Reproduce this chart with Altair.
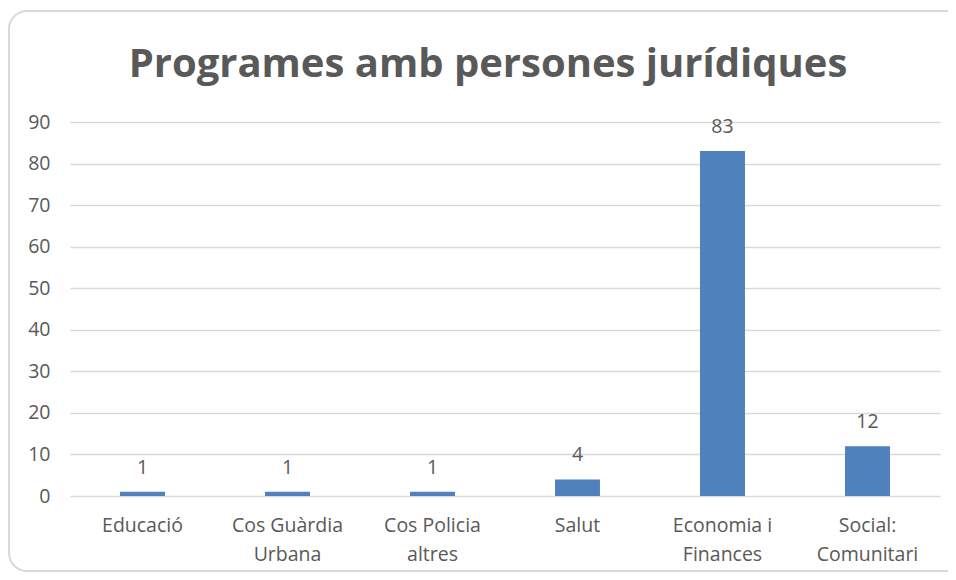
import altair as alt
import pandas as pd

categories = ["Educació", "Cos Guàrdia Urbana", "Cos Policia altres", "Salut", "Economia i Finances", "Social: Comunitari"]
values = [1, 1, 1, 4, 83, 12]
title_text = "Programes amb persones jurídiques"

df = pd.DataFrame({"cat": categories, "val": values})

FONT = "Open Sans"
GREY = "#595959"
FS = 19.5

label_expr = ("datum.label == 'Cos Guàrdia Urbana' ? ['Cos Guàrdia', 'Urbana'] : "
              "datum.label == 'Cos Policia altres' ? ['Cos Policia', 'altres'] : "
              "datum.label == 'Economia i Finances' ? ['Economia i', 'Finances'] : "
              "datum.label == 'Social: Comunitari' ? ['Social:', 'Comunitari'] : datum.label")

x = alt.X("cat:N", sort=categories, title=None,
          scale=alt.Scale(paddingInner=0.69, paddingOuter=0.345),
          axis=alt.Axis(labelAngle=0, labelExpr=label_expr, labelFont=FONT, labelFontSize=FS,
                        labelColor=GREY, labelPadding=20, labelLineHeight=29, ticks=False,
                        domain=False, labelBaseline="top"))
y = alt.Y("val:Q", title=None,
          scale=alt.Scale(domain=[0, 90], nice=False),
          axis=alt.Axis(values=list(range(0, 91, 10)), labelFont=FONT, labelFontSize=FS,
                        labelColor=GREY, labelPadding=20, ticks=False, domain=False,
                        gridColor="#d9d9d9", gridWidth=1.5))

bars = alt.Chart(df).mark_bar(color="#4F81BD").encode(x=x, y=y)
texts = alt.Chart(df).mark_text(font=FONT, fontSize=FS, color=GREY, baseline="middle", dy=-24).encode(
    x=alt.X("cat:N", sort=categories), y="val:Q", text="val:Q")

title_df = pd.DataFrame({"t": [title_text]})
title = alt.Chart(title_df).mark_text(font=FONT, fontSize=40, fontWeight="bold", color=GREY,
                                      baseline="alphabetic", align="center", clip=False).encode(
    x=alt.value(418), y=alt.value(-45), text="t:N")

# chart frame: rounded corners on the left, continuing past the right edge
frame_style = dict(stroke="#d9d9d9", strokeWidth=2, clip=False)
frame = alt.Chart(title_df).mark_rect(filled=False, cornerRadius=18, **frame_style).encode(
    x=alt.value(-61), x2=alt.value(1200), y=alt.value(-111), y2=alt.value(449))

chart = alt.layer(frame, bars, texts, title).properties(
    width=870, height=374,
    autosize=alt.AutoSizeParams(type="none"),
    padding={"left": 62, "top": 114, "right": 8, "bottom": 76},
).configure_view(stroke=None)

chart.save("out.html", embed_options={"renderer": "svg", "actions": False})
